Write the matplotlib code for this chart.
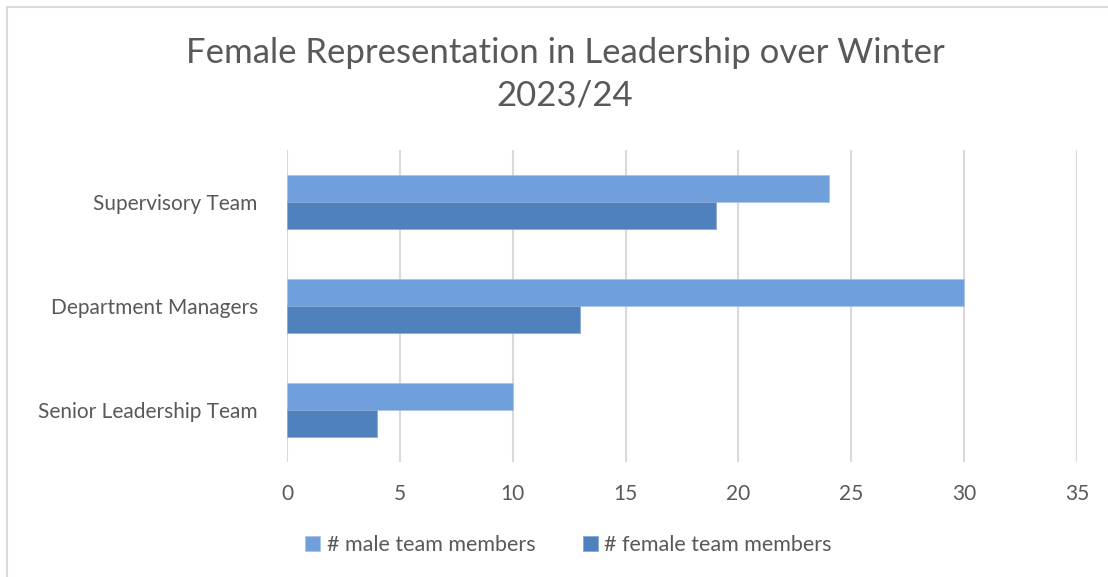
import numpy as np
import matplotlib.pyplot as plt
from matplotlib.patches import Rectangle

categories = ['Senior Leadership Team', 'Department Managers', 'Supervisory Team']
male = [10, 30, 24]
female = [4, 13, 19]
series_labels = ['# male team members', '# female team members']

plt.rcParams['font.family'] = ['Lato', 'DejaVu Sans']
text_col = '#595959'

fig = plt.figure(figsize=(11.08, 5.77), dpi=100)
ax = fig.add_axes([0.259, 0.199, 0.713, 0.541])

y = np.arange(len(categories))
h = 0.26
ax.barh(y + h / 2, male, height=h, color='#6FA0DC', edgecolor='#A9C4EA', linewidth=0.6,
        label=series_labels[0], zorder=3)
ax.barh(y - h / 2, female, height=h, color='#4F81BD', edgecolor='#8AAAD6', linewidth=0.6,
        label=series_labels[1], zorder=3)

ax.set_xlim(0, 35)
ax.set_ylim(-0.5, 2.5)
ax.set_xticks(range(0, 36, 5))
ax.set_yticks(y)
ax.set_yticklabels(categories)
ax.grid(axis='x', color='#D9D9D9', linewidth=1.5, zorder=0)
for s in ax.spines.values():
    s.set_visible(False)
ax.tick_params(axis='both', length=0, labelsize=15, colors=text_col)
ax.tick_params(axis='x', pad=16)
ax.tick_params(axis='y', pad=21)

fig.text(0.51, 0.872, 'Female Representation in Leadership over Winter\n2023/24',
         ha='center', va='center', fontsize=25, color=text_col, linespacing=1.4)

ax.legend(loc='center', bbox_to_anchor=(0.513, 0.055), bbox_transform=fig.transFigure,
          ncol=2, frameon=False, fontsize=15.5, labelcolor=text_col, handlelength=0.7,
          handleheight=0.7, handletextpad=0.3, columnspacing=2.2)

fig.patches.append(Rectangle((0.0065, -0.01), 1.0, 0.998, transform=fig.transFigure,
                             fill=False, edgecolor='#D9D9D9', linewidth=1.5))

fig.savefig('out.png', dpi=100)
